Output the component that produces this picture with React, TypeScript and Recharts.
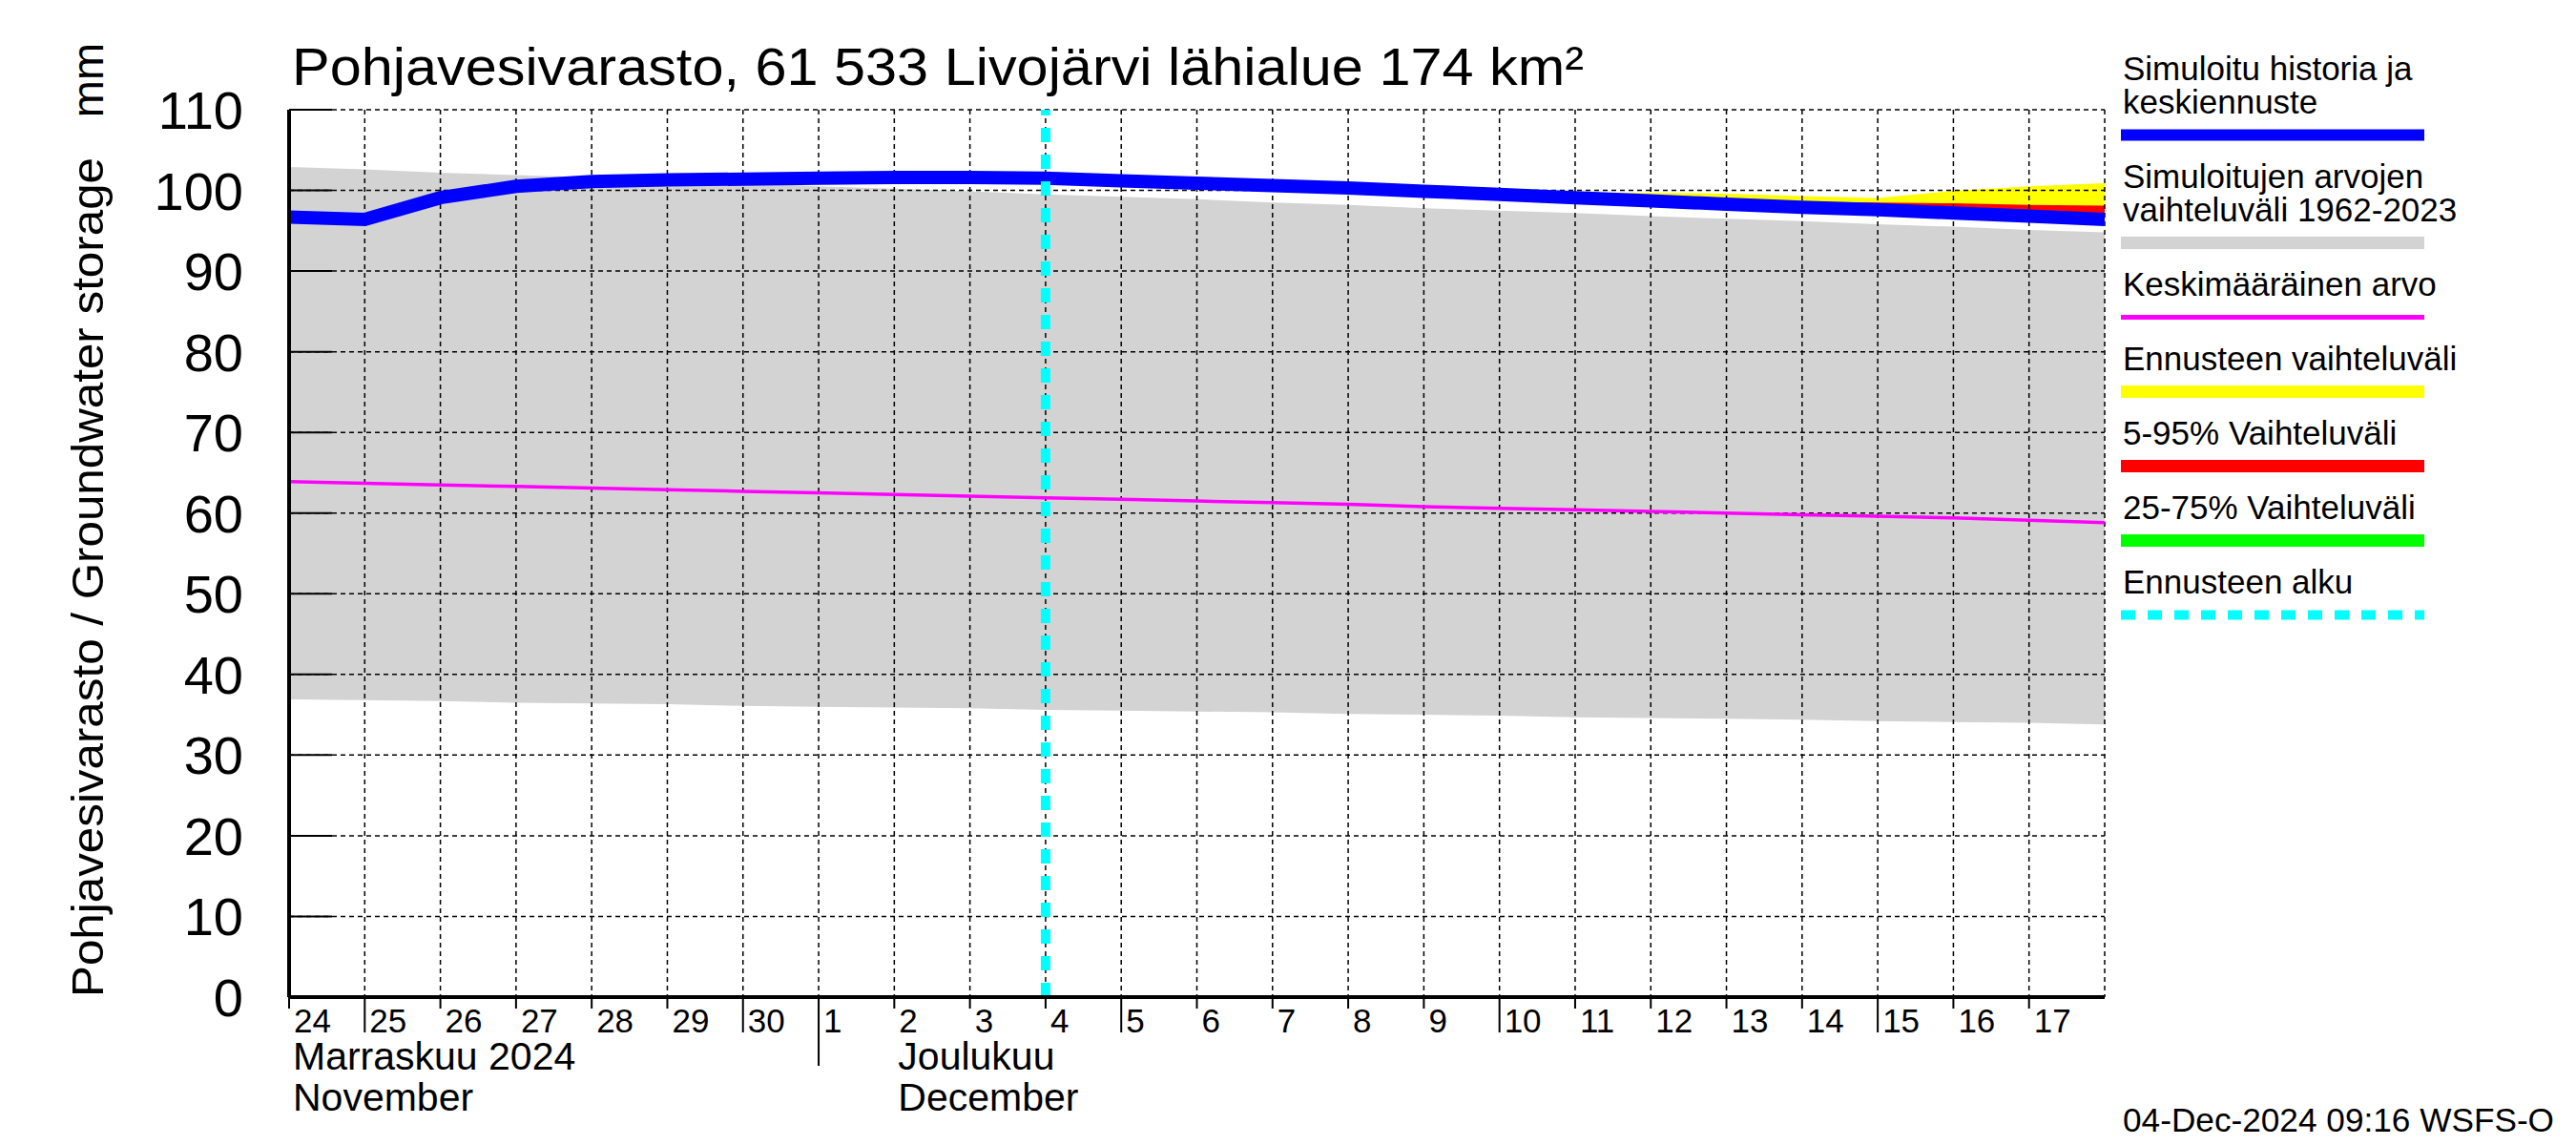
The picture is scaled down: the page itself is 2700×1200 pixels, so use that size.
import React from "react";
import {
  ComposedChart,
  Area,
  Line,
  XAxis,
  YAxis,
  CartesianGrid,
  ReferenceLine,
  Legend,
} from "recharts";

const W = 2700;
const H = 1200;
const MARGIN = { top: 115, right: 494, bottom: 0, left: 0 };
const FONT = '"Liberation Sans", Arial, Helvetica, sans-serif';

// päivät 24.11.–18.12.2024, indeksi = päivä alusta
const dayLabels = [
  "24", "25", "26", "27", "28", "29", "30",
  "1", "2", "3", "4", "5", "6", "7", "8", "9", "10",
  "11", "12", "13", "14", "15", "16", "17", "18",
];

const months = [
  { at: 0, fi: "Marraskuu 2024", en: "November" },
  { at: 8, fi: "Joulukuu", en: "December" },
];

// simuloitu historia ja keskiennuste (mm)
const simulated = [
  96.7, 96.4, 99.1, 100.5, 101.1, 101.3, 101.4, 101.5, 101.6, 101.6, 101.5,
  101.2, 100.9, 100.6, 100.3, 99.9, 99.5, 99.1, 98.7, 98.3, 97.9, 97.6, 97.2,
  96.8, 96.4,
];

// vaihteluväli 1962-2023
const histHigh = [
  102.9, 102.6, 102.2, 101.9, 101.6, 101.2, 100.9, 100.5, 100.2, 99.9, 99.5,
  99.2, 98.9, 98.5, 98.2, 97.8, 97.5, 97.2, 96.8, 96.5, 96.2, 95.8, 95.5, 95.1,
  94.8,
];
const histLow = [
  36.9, 36.8, 36.7, 36.5, 36.4, 36.3, 36.1, 36.0, 35.9, 35.8, 35.6, 35.5, 35.4,
  35.3, 35.1, 35.0, 34.9, 34.7, 34.6, 34.5, 34.4, 34.2, 34.1, 34.0, 33.8,
];

// keskimääräinen arvo
const meanValues = [
  63.9, 63.7, 63.5, 63.3, 63.1, 62.9, 62.7, 62.5, 62.3, 62.1, 61.9, 61.7, 61.5,
  61.3, 61.1, 60.8, 60.6, 60.4, 60.2, 60.0, 59.8, 59.6, 59.4, 59.1, 58.8,
];

// ennuste alkaa 4.12. (indeksi 10)
const FORECAST_START = 10;
const fcMax = [101.5, 101.2, 100.9, 100.7, 100.5, 100.2, 99.9, 99.7, 99.7, 99.6, 99.3, 99.05, 99.95, 100.5, 100.9];
const fcMin = [101.4, 100.7, 100.3, 100.0, 99.7, 99.3, 98.9, 98.5, 98.1, 97.7, 97.3, 97.0, 96.6, 96.2, 95.8];
const fc95 = [101.5, 101.2, 100.9, 100.6, 100.4, 100.0, 99.7, 99.4, 99.1, 98.8, 98.6, 98.5, 98.4, 98.2, 98.1];
const fc5 = [101.5, 100.9, 100.5, 100.2, 99.9, 99.5, 99.1, 98.7, 98.3, 97.9, 97.5, 97.2, 96.8, 96.4, 96.0];
const fc75 = [101.5, 101.4, 101.1, 100.8, 100.5, 100.1, 99.7, 99.3, 98.9, 98.5, 98.2, 97.9, 97.5, 97.1, 96.7];
const fc25 = [101.5, 101.0, 100.7, 100.4, 100.1, 99.7, 99.3, 98.9, 98.5, 98.1, 97.7, 97.4, 97.0, 96.6, 96.2];

const yTicks = [0, 10, 20, 30, 40, 50, 60, 70, 80, 90, 100, 110];
const xTicks = dayLabels.map((_, i) => i);

const legendEntries = [
  { lines: ["Simuloitu historia ja", "keskiennuste"], color: "#0000ff", width: 12 },
  { lines: ["Simuloitujen arvojen", "vaihteluväli 1962-2023"], color: "#d3d3d3", width: 13 },
  { lines: ["Keskimääräinen arvo"], color: "#ff00ff", width: 5 },
  { lines: ["Ennusteen vaihteluväli"], color: "#ffff00", width: 13 },
  { lines: ["5-95% Vaihteluväli"], color: "#ff0000", width: 13 },
  { lines: ["25-75% Vaihteluväli"], color: "#00ff00", width: 13 },
  { lines: ["Ennusteen alku"], color: "#00ffff", width: 10, dash: "15 13" },
];

const data = dayLabels.map((label, i) => {
  const f = i - FORECAST_START;
  const fc = f >= 0;
  return {
    x: i,
    label,
    sim: simulated[i],
    mean: meanValues[i],
    hist: [histLow[i], histHigh[i]],
    minmax: fc ? [fcMin[f], fcMax[f]] : null,
    p595: fc ? [fc5[f], fc95[f]] : null,
    p2575: fc ? [fc25[f], fc75[f]] : null,
  };
});

const YTick = (props: any) => {
  const { x, y, payload } = props;
  return (
    <g>
      <line x1={x} x2={x + 45} y1={y} y2={y} stroke="#000" strokeWidth={2} />
      <text x={x - 48} y={y} dy={20} textAnchor="end" fontSize={56} fontFamily={FONT} fill="#000">
        {payload.value}
      </text>
    </g>
  );
};

const XTick = (props: any) => {
  const { x, y, payload } = props;
  const i = payload.value;
  if (i >= dayLabels.length - 1) return <g />;
  const label = dayLabels[i];
  const len = label === "1" ? 72 : Number(label) % 5 === 0 ? 37 : 12;
  const month = months.find((m) => m.at === i);
  return (
    <g fontFamily={FONT} fill="#000">
      <line x1={x} x2={x} y1={y} y2={y + len} stroke="#000" strokeWidth={2} />
      <text x={x + 5} y={y + 37} fontSize={35}>
        {label}
      </text>
      {month && (
        <>
          <text x={x + 4} y={y + 76} fontSize={41}>
            {month.fi}
          </text>
          <text x={x + 4} y={y + 119} fontSize={41}>
            {month.en}
          </text>
        </>
      )}
    </g>
  );
};

const LegendBox = () => {
  const out: any[] = [];
  let y = 84;
  legendEntries.forEach((e, i) => {
    e.lines.forEach((t, j) => {
      out.push(
        <text key={`t${i}-${j}`} x={25} y={y} fontSize={35} fill="#000">
          {t}
        </text>
      );
      if (j < e.lines.length - 1) y += 35;
    });
    const by = y + 22.5;
    out.push(
      <line
        key={`l${i}`}
        x1={23}
        x2={341}
        y1={by}
        y2={by}
        stroke={e.color}
        strokeWidth={e.width}
        strokeDasharray={e.dash}
      />
    );
    y = by + 55.5;
  });
  return (
    <svg width={500} height={700} style={{ fontFamily: FONT, display: "block" }}>
      {out}
    </svg>
  );
};

const layer: React.CSSProperties = { position: "absolute", left: 0, top: 0 };

const App = () => {
  return (
    <div
      style={{
        position: "absolute",
        left: 0,
        top: 0,
        width: W,
        height: H,
        background: "#fff",
        fontFamily: FONT,
      }}
    >
      {/* alue-sarjat */}
      <div style={layer}>
        <ComposedChart width={W} height={H} data={data} margin={MARGIN}>
          <XAxis dataKey="x" type="number" domain={[0, 24]} ticks={xTicks} height={155} tick={false} axisLine={false} tickLine={false} />
          <YAxis type="number" domain={[0, 110]} ticks={yTicks} width={303} tick={false} axisLine={false} tickLine={false} />
          <Area dataKey="hist" type="linear" stroke="none" fill="#d3d3d3" fillOpacity={1} isAnimationActive={false} dot={false} activeDot={false} />
          <Area dataKey="minmax" type="linear" stroke="none" fill="#ffff00" fillOpacity={1} isAnimationActive={false} dot={false} activeDot={false} />
          <Area dataKey="p595" type="linear" stroke="none" fill="#ff0000" fillOpacity={1} isAnimationActive={false} dot={false} activeDot={false} />
          <Area dataKey="p2575" type="linear" stroke="none" fill="#00ff00" fillOpacity={1} isAnimationActive={false} dot={false} activeDot={false} />
        </ComposedChart>
      </div>

      {/* ruudukko, viivat, akselit */}
      <div style={layer}>
        <ComposedChart width={W} height={H} data={data} margin={MARGIN}>
          <CartesianGrid stroke="#000" strokeWidth={1.5} strokeDasharray="5 4" />
          <XAxis
            dataKey="x"
            type="number"
            domain={[0, 24]}
            ticks={xTicks}
            interval={0}
            height={155}
            tickSize={0}
            tickMargin={0}
            tickLine={false}
            axisLine={{ stroke: "#000", strokeWidth: 4 }}
            tick={<XTick />}
          />
          <YAxis
            type="number"
            domain={[0, 110]}
            ticks={yTicks}
            interval={0}
            width={303}
            tickSize={0}
            tickMargin={0}
            tickLine={false}
            axisLine={{ stroke: "#000", strokeWidth: 4 }}
            tick={<YTick />}
          />
          <Line dataKey="mean" type="linear" stroke="#ff00ff" strokeWidth={3.5} dot={false} activeDot={false} isAnimationActive={false} />
          <Line dataKey="sim" type="linear" stroke="#0000ff" strokeWidth={14} dot={false} activeDot={false} isAnimationActive={false} />
          <ReferenceLine x={FORECAST_START} stroke="#00ffff" strokeWidth={10} strokeDasharray="15 13" />
          <Legend
            layout="horizontal"
            verticalAlign="middle"
            align="center"
            content={<LegendBox />}
            wrapperStyle={{ left: 2200, top: 0, width: 500, height: 700 }}
          />
        </ComposedChart>
      </div>

      <svg width={W} height={H} style={{ ...layer, pointerEvents: "none" }} fontFamily={FONT}>
        <text x={306} y={89} fontSize={56} textLength={1354} lengthAdjust="spacingAndGlyphs" fill="#000">
          Pohjavesivarasto, 61 533 Livojärvi lähialue 174 km²
        </text>
        <text transform="translate(108,605) rotate(-90)" textAnchor="middle" fontSize={47} textLength={880} lengthAdjust="spacingAndGlyphs" fill="#000">
          Pohjavesivarasto / Groundwater storage
        </text>
        <text transform="translate(108,84) rotate(-90)" textAnchor="middle" fontSize={47} fill="#000">
          mm
        </text>
        <text x={2225} y={1186} fontSize={35} textLength={452} lengthAdjust="spacingAndGlyphs" fill="#000">
          04-Dec-2024 09:16 WSFS-O
        </text>
      </svg>
    </div>
  );
};

export default App;
